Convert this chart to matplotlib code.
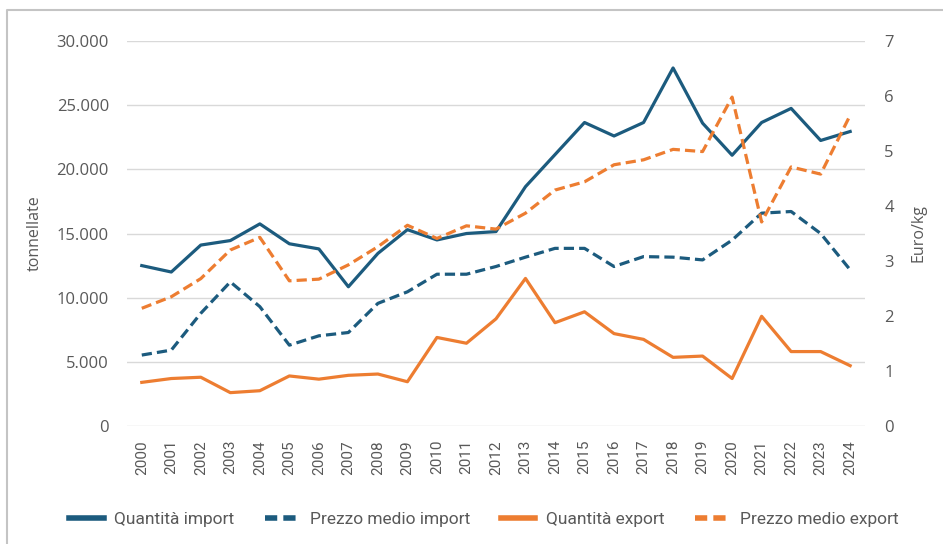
import matplotlib
matplotlib.use('Agg')
import matplotlib.pyplot as plt
from matplotlib.lines import Line2D
import numpy as np

years = [str(y) for y in range(2000, 2025)]

# tonnellate (left axis)
qty_import = [12500, 12000, 14100, 14450, 15750, 14200, 13800, 10850, 13450, 15300,
              14500, 15000, 15150, 18650, 21150, 23650, 22600, 23650, 27900, 23600,
              21100, 23650, 24750, 22250, 22950]
qty_export = [3400, 3700, 3800, 2600, 2750, 3900, 3650, 3950, 4050, 3450,
              6900, 6450, 8350, 11500, 8050, 8900, 7200, 6750, 5350, 5450,
              3700, 8550, 5800, 5800, 4700]

# Euro/kg (right axis)
price_import = [1.29, 1.38, 2.05, 2.62, 2.17, 1.47, 1.64, 1.70, 2.23, 2.44,
                2.76, 2.76, 2.90, 3.07, 3.23, 3.23, 2.90, 3.08, 3.07, 3.02,
                3.38, 3.87, 3.90, 3.50, 2.84]
price_export = [2.14, 2.35, 2.68, 3.20, 3.43, 2.64, 2.67, 2.93, 3.26, 3.65,
                3.41, 3.64, 3.58, 3.87, 4.29, 4.44, 4.75, 4.84, 5.03, 4.99,
                5.98, 3.71, 4.71, 4.58, 5.65]

blue = '#1c5b7e'
orange = '#ed7d31'
gray_txt = '#595959'

fig = plt.figure(figsize=(9.43, 5.44), dpi=100)
ax = fig.add_axes([0.1347, 0.2169, 0.7825, 0.7077])
ax2 = ax.twinx()

x = np.arange(len(years))
ax.plot(x, qty_import, color=blue, lw=2.3, zorder=3)
ax.plot(x, qty_export, color=orange, lw=2.3, zorder=3)
ax2.plot(x, price_import, color=blue, lw=2.3, dashes=(3.2, 1.6), zorder=3)
ax2.plot(x, price_export, color=orange, lw=2.3, dashes=(3.2, 1.6), zorder=3)

ax.set_xlim(-0.5, len(years) - 0.5)
ax.set_ylim(0, 30000)
ax2.set_ylim(0, 7)
ax.set_yticks(range(0, 30001, 5000))
ax.set_yticklabels(['0'] + [f'{v // 1000}.000' for v in range(5000, 30001, 5000)])
ax2.set_yticks(range(0, 8))
ax.set_xticks(x)
ax.set_xticklabels(years, rotation=90, fontsize=11, family='Roboto', color=gray_txt)

ax.grid(axis='y', color='#d9d9d9', lw=1)
ax.set_axisbelow(True)
for a in (ax, ax2):
    for s in a.spines.values():
        s.set_visible(False)
ax.tick_params(axis='both', length=0)
ax2.tick_params(axis='both', length=0)
ax.tick_params(axis='y', pad=13, labelsize=12, labelcolor=gray_txt)
ax.tick_params(axis='x', pad=10)
ax2.tick_params(axis='y', pad=14, labelsize=12, labelcolor=gray_txt)
for lab in ax.get_yticklabels() + ax2.get_yticklabels():
    lab.set_family('Open Sans')

ax.set_ylabel('tonnellate', fontsize=11.5, color=gray_txt, family='Open Sans', labelpad=10)
ax2.set_ylabel('Euro/kg', fontsize=11.5, color=gray_txt, family='Open Sans', labelpad=12)

handles = [
    Line2D([], [], color=blue, lw=4),
    Line2D([], [], color=blue, lw=4, dashes=(2.2, 1.1)),
    Line2D([], [], color=orange, lw=4),
    Line2D([], [], color=orange, lw=4, dashes=(2.2, 1.1)),
]
labels = ['Quantità import', 'Prezzo medio import', 'Quantità export', 'Prezzo medio export']
fig.legend(handles, labels, loc='center', bbox_to_anchor=(0.513, 0.045), ncol=4,
           frameon=False, prop={'family': 'Roboto', 'size': 12.5}, labelcolor=gray_txt,
           handlelength=2.0, handletextpad=0.6, columnspacing=1.75)

# border of the original frame (top and left visible)
fig.add_artist(Line2D([7.5 / 943, 7.5 / 943, 1.0], [0.0, 1 - 9.5 / 544, 1 - 9.5 / 544],
                      transform=fig.transFigure, color='#c4c4c4', lw=1.5))

fig.savefig('out.png', dpi=100, facecolor='white')
